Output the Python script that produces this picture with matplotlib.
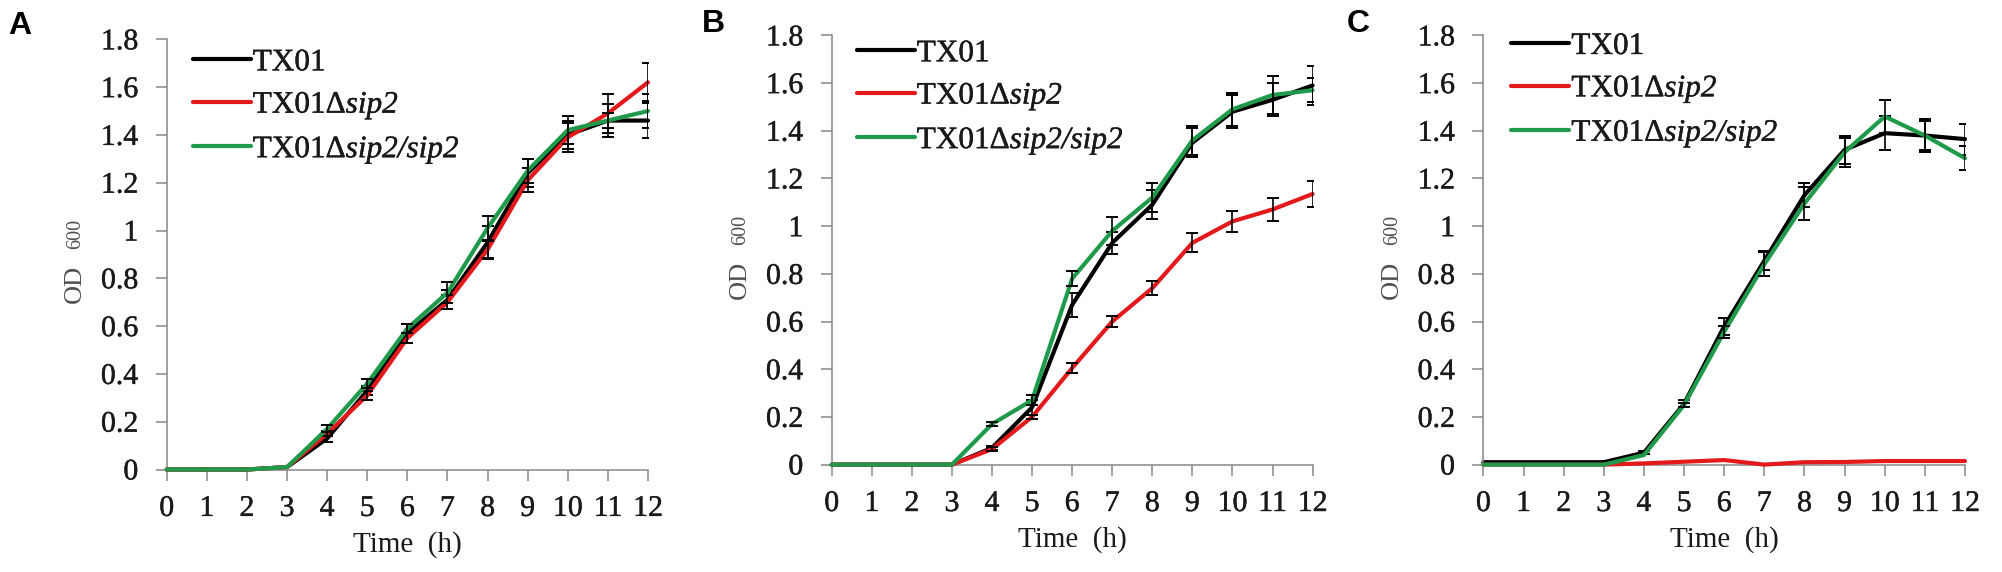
import matplotlib
matplotlib.use("Agg")
import matplotlib.pyplot as plt
import matplotlib.patheffects as pe

# Fuentes tipo Excel (Times / Arial)
plt.rcParams['font.family'] = ['Liberation Serif', 'DejaVu Serif']
plt.rcParams['mathtext.fontset'] = 'custom'
# el texto matematico solo se usa para "sip2", todo en cursiva
plt.rcParams['mathtext.rm'] = 'Liberation Serif:italic'
plt.rcParams['mathtext.it'] = 'Liberation Serif:italic'

horas = list(range(13))
etiquetas = ["TX01", r"TX01Δ$\mathrm{sip2}$", r"TX01Δ$\mathrm{sip2/sip2}$"]
colores = ["#000000", "#e3191c", "#1f9a4b"]
yticks = [0, 0.2, 0.4, 0.6, 0.8, 1.0, 1.2, 1.4, 1.6, 1.8]
ytick_labels = ["0", "0.2", "0.4", "0.6", "0.8", "1", "1.2", "1.4", "1.6", "1.8"]

# Panel A
a_tx01 = [0, 0, 0, 0.01, 0.13, 0.33, 0.57, 0.71, 0.95, 1.24, 1.40, 1.46, 1.46]
a_tx01_err = [0, 0, 0, 0, 0.015, 0.02, 0.04, 0.04, 0.07, 0.06, 0.06, 0.07, 0.075]
a_sip2 = [0, 0, 0, 0.01, 0.15, 0.31, 0.55, 0.70, 0.92, 1.21, 1.39, 1.49, 1.62]
a_sip2_err = [0, 0, 0, 0, 0.01, 0.02, 0.02, 0.03, 0.035, 0.05, 0.06, 0.08, 0.08]
a_comp = [0, 0, 0, 0.01, 0.17, 0.36, 0.59, 0.74, 1.01, 1.25, 1.42, 1.46, 1.50]
a_comp_err = [0, 0, 0, 0, 0.015, 0.02, 0.02, 0.045, 0.05, 0.05, 0.06, 0.03, 0.07]

# Panel B
b_tx01 = [0, 0, 0, 0, 0.07, 0.24, 0.67, 0.93, 1.09, 1.35, 1.48, 1.53, 1.59]
b_tx01_err = [0, 0, 0, 0, 0.01, 0.03, 0.05, 0.045, 0.06, 0.06, 0.07, 0.07, 0.08]
b_sip2 = [0, 0, 0, 0, 0.065, 0.20, 0.405, 0.60, 0.74, 0.93, 1.02, 1.07, 1.135]
b_sip2_err = [0, 0, 0, 0, 0.01, 0.01, 0.02, 0.025, 0.03, 0.04, 0.045, 0.05, 0.053]
b_comp = [0, 0, 0, 0, 0.17, 0.27, 0.78, 0.98, 1.12, 1.36, 1.49, 1.55, 1.57]
b_comp_err = [0, 0, 0, 0, 0.01, 0.02, 0.03, 0.06, 0.06, 0.06, 0.07, 0.08, 0.05]

# Panel C
c_tx01 = [0.01, 0.01, 0.01, 0.01, 0.05, 0.255, 0.58, 0.855, 1.13, 1.32, 1.39, 1.38, 1.365]
c_tx01_err = [0, 0, 0, 0, 0.005, 0.015, 0.035, 0.04, 0.05, 0.06, 0.07, 0.07, 0.065]
c_sip2 = [0, 0, 0, 0, 0.005, 0.012, 0.019, 0.0, 0.01, 0.011, 0.015, 0.015, 0.015]
c_sip2_err = [0, 0, 0, 0, 0, 0, 0, 0, 0, 0, 0, 0, 0]
c_comp = [0, 0, 0, 0, 0.04, 0.25, 0.557, 0.84, 1.095, 1.31, 1.46, 1.38, 1.285]
c_comp_err = [0, 0, 0, 0, 0, 0.01, 0.025, 0.05, 0.07, 0.06, 0.07, 0.06, 0.05]

paneles = [
    ("A", [a_tx01, a_sip2, a_comp], [a_tx01_err, a_sip2_err, a_comp_err]),
    ("B", [b_tx01, b_sip2, b_comp], [b_tx01_err, b_sip2_err, b_comp_err]),
    ("C", [c_tx01, c_sip2, c_comp], [c_tx01_err, c_sip2_err, c_comp_err]),
]

W, H = 2002, 572
# cajas de ejes en pixeles: izquierda, abajo(y desde arriba), ancho, alto
cajas = [(166.7, 469.5, 481.3, 430.2), (831.7, 464.6, 480.9, 429.2), (1483.4, 464.6, 481.6, 429.2)]
pos_letras = [(20, 26), (713, 24), (1358, 24)]
pos_leyenda = [(0.054, 0.979), (0.052, 0.991), (0.058, 1.008)]

# trazo muy fino para que el texto se vea algo mas lleno, como en el original
grueso = [pe.withStroke(linewidth=0.3, foreground='#1a1a1a')]

fig = plt.figure(figsize=(W / 100, H / 100), dpi=100)

for (letra, series, errores), caja, pl, pley in zip(paneles, cajas, pos_letras, pos_leyenda):
    x0, y0, w, h = caja
    ax = fig.add_axes([x0 / W, (H - y0) / H, w / W, h / H])
    z = 2
    for datos, err, color, lab in zip(series, errores, colores, etiquetas):
        ax.plot(horas, datos, color=color, lw=3.0, label=lab, clip_on=False,
                solid_capstyle='round', solid_joinstyle='round', zorder=z)
        idx = [i for i, e in enumerate(err) if e > 0]
        if idx:
            ax.errorbar([horas[i] for i in idx], [datos[i] for i in idx],
                        yerr=[err[i] for i in idx], fmt='none', ecolor='black',
                        elinewidth=1.2, capsize=4.3, capthick=1.4, zorder=z + 0.5)
        z += 1

    ax.set_xlim(0, 12)
    ax.set_ylim(0, 1.8)
    ax.set_xticks(horas)
    ax.set_yticks(yticks)
    ax.set_yticklabels(ytick_labels)
    for s in ['top', 'right']:
        ax.spines[s].set_visible(False)
    for s in ['left', 'bottom']:
        ax.spines[s].set_color('#868686')
        ax.spines[s].set_linewidth(1.1)
    ax.tick_params(axis='both', direction='out', length=8, width=1.1, color='#868686',
                   labelsize=21.5, labelcolor='#1a1a1a')
    ax.tick_params(axis='x', pad=11)
    ax.tick_params(axis='y', pad=12.5)
    for t in ax.get_xticklabels() + ax.get_yticklabels():
        t.set_path_effects(grueso)

    ax.set_xlabel("Time  (h)", fontsize=21, color='#1a1a1a', va='center')
    ax.xaxis.set_label_coords(0.5, -75.0 / h)
    ax.text(-0.1905, 0.431, "OD", rotation=90, fontsize=19, color='#505050',
            ha='center', va='center', transform=ax.transAxes)
    ax.text(-0.1885, 0.547, "600", rotation=90, fontsize=14.5, color='#505050',
            ha='center', va='center', transform=ax.transAxes)

    ley = ax.legend(loc='upper left', bbox_to_anchor=pley, frameon=False, fontsize=22.5,
                    handlelength=1.86, handletextpad=0.06, labelspacing=0.40,
                    borderpad=0, borderaxespad=0, labelcolor='#1a1a1a')
    for t in ley.get_texts():
        t.set_path_effects(grueso)

    fig.text(pl[0] / W, 1 - pl[1] / H, letra, fontsize=23, fontweight='bold',
             family='Liberation Sans', ha='center', va='center')

fig.savefig("out.png", dpi=100, facecolor='white')
